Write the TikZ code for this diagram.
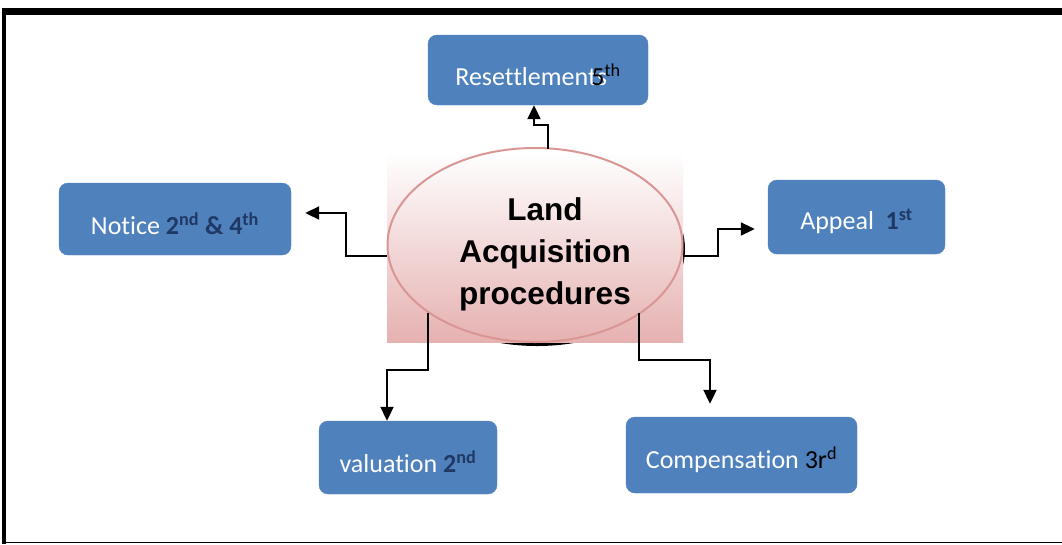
\documentclass[tikz,border=0pt]{standalone}
\usepackage{fontspec}
\setmainfont[Ligatures=NoCommon]{Carlito}
\newfontfamily\titlefont{Liberation Sans}
\usetikzlibrary{arrows.meta,shapes.geometric}
\definecolor{boxblue}{HTML}{4F81BD}
\definecolor{navy}{HTML}{1F3864}
\definecolor{pinkedge}{HTML}{D99694}
\definecolor{pinkbot}{HTML}{E6B1B1}
\tikzset{
  stagebox/.style={draw=boxblue,fill=boxblue,rounded corners=9pt,text=white,
    font=\fontsize{26}{30}\selectfont,inner sep=0pt},
  arr/.style={line width=2pt,-{Triangle[length=14pt,width=13pt]}},
  frameline/.style={black},
}
\newcommand{\nv}[1]{\textcolor{navy}{\bfseries #1}}
\newcommand{\lo}[1]{\raisebox{-4.5pt}[\height][\depth]{#1}}
\begin{document}
\begin{tikzpicture}[x=1pt,y=-1pt]
\useasboundingbox (0,0) rectangle (1062,544);
% frame
\draw[frameline,line width=6.5pt] (1.7,11.7) -- (1062,11.7);
\draw[frameline,line width=4pt] (3.7,9) -- (3.7,544);
\draw[frameline,line width=1.2pt] (3.7,542.8) -- (1062,542.8);
% centre
\fill[black] (537,249) ellipse [x radius=148, y radius=97];
\shade[top color=white,bottom color=pinkbot] (387,152) rectangle (683,342);
\node[ellipse,draw=pinkedge,line width=2pt,minimum width=295pt,minimum height=194pt] (ell) at (535,245) {};
\node[font=\titlefont\bfseries\fontsize{31.5}{42}\selectfont,align=center] (title) at (545,254) {Land\\Acquisition\\procedures};
% boxes
\node[stagebox,minimum width=220pt,minimum height=70pt] (reset) at (538,70)
  {\lo{\textcolor{white}{Resettlemen}\rlap{\textcolor{white}{ts}}\kern0.12em\textcolor{black}{5\textsuperscript{th}}}};
\node[stagebox,minimum width=232pt,minimum height=72pt] (notice) at (175,219)
  {\lo{Notice \nv{2\textsuperscript{nd} \& 4\textsuperscript{th}}}};
\node[stagebox,minimum width=177pt,minimum height=74pt] (appeal) at (856.5,217)
  {\lo{Appeal\ \ \nv{1\textsuperscript{st}}}};
\node[stagebox,minimum width=178pt,minimum height=73pt] (valn) at (408,457.5)
  {\lo{valuation \nv{2\textsuperscript{nd}}}};
\node[stagebox,minimum width=231pt,minimum height=76pt] (comp) at (741.5,455)
  {\lo{Compensation \textcolor{black}{3r\textsuperscript{d}}}};
% connector starts
\coordinate (r0) at (548,149);
\coordinate (n0) at (387,256);
\coordinate (a0) at (683,256);
\coordinate (v0) at (428,313);
\coordinate (c0) at (639,313);
% connectors
\draw[arr] (r0) -- (548,125) -| ([xshift=-4pt]reset.south);
\draw[arr] (n0) -- (346,256) |- ([shift={(14,-6)}]notice.east);
\draw[arr] (a0) -- (718,256) |- ([shift={(-13,12)}]appeal.west);
\draw[arr] (v0) -- (428,370) -| ([xshift=-21pt]valn.north);
\draw[arr] (c0) -- (639,360) -| ([shift={(-31.5,-13)}]comp.north);
\end{tikzpicture}
\end{document}
